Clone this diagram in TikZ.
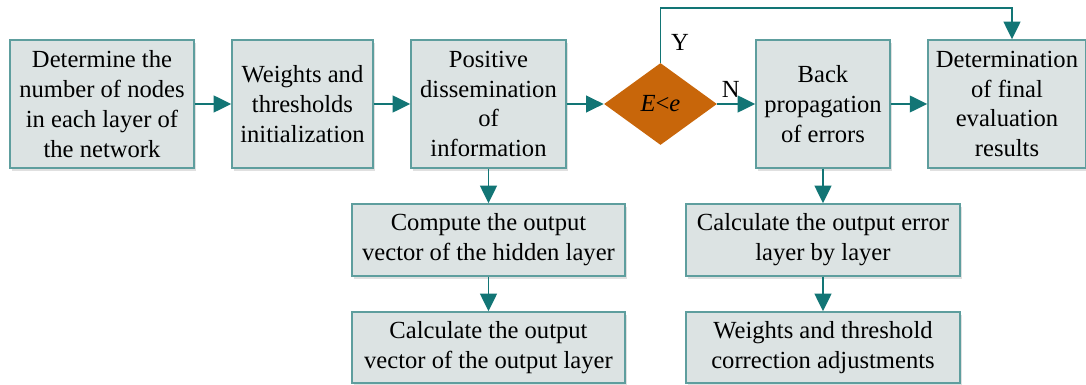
\documentclass[tikz,border=0pt]{standalone}
\usepackage{fontspec}
\setmainfont{Liberation Serif}
\usetikzlibrary{shapes.geometric,arrows.meta,shadows}
\definecolor{boxfill}{HTML}{DCE3E3}
\definecolor{boxline}{HTML}{5E9E9E}
\definecolor{flowteal}{HTML}{127575}
\definecolor{decfill}{HTML}{C8660A}
\tikzset{
  box/.style={draw=boxline, fill=boxfill, line width=0.8pt, align=center,
    inner sep=2pt, font=\fontsize{14}{17}\selectfont,
    drop shadow={shadow xshift=1.2pt, shadow yshift=-1.5pt, opacity=0.2, fill=black!60}},
  decision/.style={diamond, fill=decfill, inner sep=0pt,
    minimum width=2.26cm, minimum height=1.64cm, font=\fontsize{14}{17}\selectfont},
  flow/.style={draw=flowteal, line width=1.1pt, -{Triangle[length=10pt,width=9.5pt]}},
  tag/.style={font=\fontsize{14}{17}\selectfont, inner sep=0pt}
}
\begin{document}
\begin{tikzpicture}[x=0.02cm, y=-0.02cm]
      \useasboundingbox (0,0) rectangle (1086,385);
      \node[box, minimum width=3.68cm, minimum height=2.56cm] (nodes) at (102,104)
        {Determine the\\number of nodes\\in each layer of\\the network};
      \node[box, minimum width=2.82cm, minimum height=2.56cm] (init) at (302.5,104)
        {Weights and\\thresholds\\initialization};
      \node[box, minimum width=3.10cm, minimum height=2.56cm] (forward) at (488.5,104)
        {Positive\\dissemination\\of\\information};
      \node[decision] (check) at (660.5,104) {\textit{E}<\textit{e}};
      \node[box, minimum width=2.68cm, minimum height=2.56cm] (back) at (823,104)
        {Back\\propagation\\of errors};
      \node[box, minimum width=3.16cm, minimum height=2.56cm] (result) at (1007,104)
        {Determination\\of final\\evaluation\\results};
      \node[box, minimum width=5.46cm, minimum height=1.44cm] (hidden) at (488.5,240)
        {Compute the output\\vector of the hidden layer};
      \node[box, minimum width=5.46cm, minimum height=1.42cm] (output) at (488.5,347.5)
        {Calculate the output\\vector of the output layer};
      \node[box, minimum width=5.48cm, minimum height=1.44cm] (error) at (823,240)
        {Calculate the output error\\layer by layer};
      \node[box, minimum width=5.48cm, minimum height=1.42cm] (adjust) at (823,347.5)
        {Weights and threshold\\correction adjustments};
      \coordinate (yes) at (1012,8);
      \begin{scope}[flow]
        \draw (nodes) to (init);
        \draw (init) to (forward);
        \draw (forward) to (check);
        \draw (check) to node[tag, above, pos=0.35, yshift=3pt] {N} (back);
        \draw (back) to (result);
        \draw (forward) to (hidden);
        \draw (hidden) to (output);
        \draw (back) to (error);
        \draw (error) to (adjust);
        \draw (check.north) |- (yes) -- (yes |- result.north);
      \end{scope}
      \node[tag] (ylabel) at (680,42) {Y};
    \end{tikzpicture}
\end{document}
